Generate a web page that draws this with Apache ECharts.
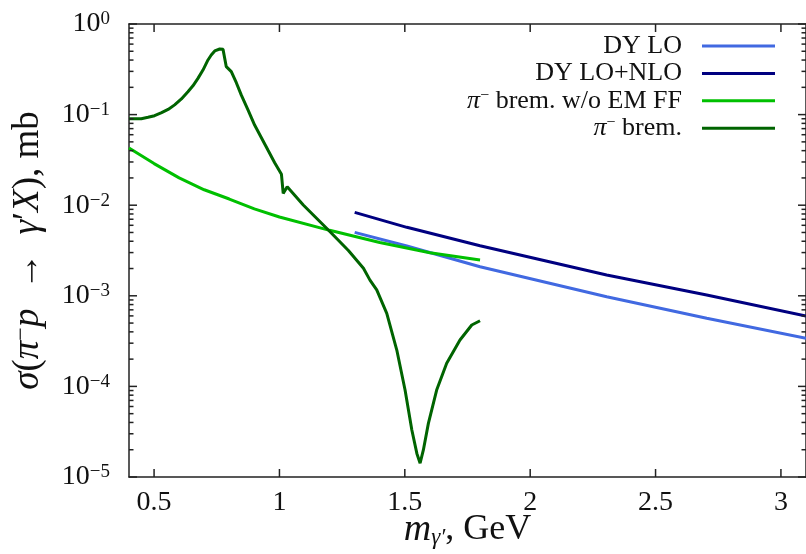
<!DOCTYPE html>
<html>
<head>
<meta charset="utf-8">
<script src="https://cdn.jsdelivr.net/npm/echarts@6/dist/echarts.min.js"></script>
<style>
  html, body { margin: 0; padding: 0; background: #fff; }
  #chart { width: 806px; height: 554px; }
</style>
</head>
<body>
<div id="chart"></div>
<script>
// values (x in GeV, y in mb)
const dyLoX = [1.30, 1.508, 1.80, 2.305, 2.704, 3.10]
const dyLoY = [0.00501, 0.00355, 0.00209, 0.000977, 0.000564, 0.000339]

const dyNloX = [1.30, 1.508, 1.80, 2.305, 2.704, 3.10]
const dyNloY = [0.00834, 0.00570, 0.00357, 0.00170, 0.00102, 0.000598]

const bremNoFfX = [0.40, 0.50, 0.60, 0.70, 0.80, 0.90, 1.00, 1.20, 1.40, 1.60, 1.80]
const bremNoFfY = [0.0428, 0.0288, 0.0200, 0.0148, 0.0117, 0.00912, 0.00741, 0.00528, 0.00387, 0.00299, 0.00248]

const bremX = [0.40, 0.423, 0.449, 0.476, 0.502, 0.53, 0.556, 0.582, 0.609, 0.635, 0.655, 0.675, 0.695, 0.715,
  0.728, 0.742, 0.748, 0.762, 0.775, 0.782, 0.788, 0.808, 0.828, 0.848, 0.875, 0.901, 0.928, 0.954, 0.981,
  1.008, 1.015, 1.031, 1.095, 1.142, 1.195, 1.275, 1.335, 1.361, 1.388, 1.428, 1.468, 1.501, 1.528,
  1.548, 1.561, 1.574, 1.594, 1.627, 1.667, 1.720, 1.767, 1.80]
const bremY = [0.0902, 0.0902, 0.0902, 0.0933, 0.0973, 0.105, 0.114, 0.128, 0.149, 0.179, 0.208, 0.251, 0.310, 0.401,
  0.455, 0.504, 0.516, 0.530, 0.525, 0.513, 0.338, 0.298, 0.225, 0.164, 0.112, 0.0767, 0.0556, 0.0406, 0.0294,
  0.0219, 0.0135, 0.0160, 0.01005, 0.00746, 0.00532, 0.00316, 0.00201, 0.00149, 0.00116, 0.000641, 0.000252, 9.12e-5, 3.30e-5,
  1.82e-5, 1.42e-5, 1.99e-5, 3.91e-5, 9.12e-5, 0.000180, 0.000325, 0.000476, 0.000531]

const xTicks = [0.5, 1, 1.5, 2, 2.5, 3]
const yMajorTicks = [1e-5, 1e-4, 1e-3, 1e-2, 1e-1, 1]
const yMinorTicks = []
yMajorTicks.slice(0, -1).forEach(d => {
  for (let k = 2; k <= 9; k++) yMinorTicks.push(d * k)
})

const X_MIN = 0.4
const X_MAX = 3.1
const Y_MIN = 1e-5
const Y_MAX = 1

const FONT = 'Liberation Serif'
const AXIS_COLOR = '#222'
const TEXT_COLOR = '#111'

const zip = (xs, ys) => xs.map((x, i) => [x, ys[i]])

const legendLabels = {
  'DY LO': '{r|DY LO}',
  'DY LO+NLO': '{r|DY LO+NLO}',
  'π⁻ brem. w/o EM FF': '{i|π}{s|−}{r| brem. w/o EM FF}',
  'π⁻ brem.': '{i|π}{s|−}{r| brem.}'
}

const chart = echarts.init(document.getElementById('chart'))

const yAxisBase = {
  type: 'log',
  logBase: 10,
  min: Y_MIN,
  max: Y_MAX,
  axisLine: { show: true, lineStyle: { color: AXIS_COLOR, width: 1.5 } },
  axisTick: { show: false },
  splitLine: { show: false }
}

const xAxisBase = {
  type: 'value',
  min: X_MIN,
  max: X_MAX,
  axisLine: { show: true, onZero: false, lineStyle: { color: AXIS_COLOR, width: 1.5 } },
  axisTick: { show: false },
  splitLine: { show: false }
}

const lineSeries = [
  { name: 'DY LO', data: zip(dyLoX, dyLoY), color: '#4169e1' },
  { name: 'DY LO+NLO', data: zip(dyNloX, dyNloY), color: '#000080' },
  { name: 'π⁻ brem. w/o EM FF', data: zip(bremNoFfX, bremNoFfY), color: '#00c000' },
  { name: 'π⁻ brem.', data: zip(bremX, bremY), color: '#006400' }
].map(s => ({
  name: s.name,
  type: 'line',
  data: s.data,
  symbol: 'none',
  showSymbol: false,
  color: s.color,
  lineStyle: { color: s.color, width: 3 },
  itemStyle: { color: s.color },
  z: 3
}))

const option = {
  backgroundColor: '#fff',
  animation: false,
  grid: { left: 129, right: 0, top: 24, bottom: 77, outerBoundsMode: 'none' },
  legend: {
    orient: 'vertical',
    right: 26,
    top: 28,
    align: 'right',
    icon: 'rect',
    itemWidth: 73,
    itemHeight: 3,
    itemGap: 1.4,
    data: ['DY LO', 'DY LO+NLO', 'π⁻ brem. w/o EM FF', 'π⁻ brem.'],
    formatter: name => legendLabels[name],
    textStyle: {
      padding: [0, 15, 0, 0],
      rich: {
        r: { fontFamily: FONT, fontSize: 26, lineHeight: 26, color: TEXT_COLOR },
        i: { fontFamily: FONT, fontSize: 26, lineHeight: 26, fontStyle: 'italic', color: TEXT_COLOR },
        s: { fontFamily: FONT, fontSize: 16, color: TEXT_COLOR, verticalAlign: 'top', lineHeight: 16 }
      }
    }
  },
  xAxis: [
    Object.assign({}, xAxisBase, {
      position: 'bottom',
      name: '{i|m}{sub|γ′}{r|, GeV}',
      nameLocation: 'middle',
      nameMoveOverlap: false,
      nameGap: 34,
      nameTextStyle: {
        rich: {
          i: { fontFamily: FONT, fontSize: 38, fontStyle: 'italic', color: TEXT_COLOR },
          sub: { fontFamily: FONT, fontSize: 23, fontStyle: 'italic', color: TEXT_COLOR, verticalAlign: 'bottom', lineHeight: 23 },
          r: { fontFamily: FONT, fontSize: 36, color: TEXT_COLOR }
        }
      },
      axisLabel: {
        show: true,
        customValues: xTicks,
        margin: 12,
        fontFamily: FONT,
        fontSize: 28,
        color: TEXT_COLOR
      }
    }),
    Object.assign({}, xAxisBase, {
      position: 'top',
      axisLabel: { show: false }
    })
  ],
  yAxis: [
    Object.assign({}, yAxisBase, {
      position: 'left',
      name: '{i|σ}{r|(}{i|π}{s|−}{i|p}{r|  →  }{i|γ}{r|′}{i|X}{r|), mb}',
      nameLocation: 'middle',
      nameGap: 82,
      nameTextStyle: {
        rich: {
          i: { fontFamily: FONT, fontSize: 37, fontStyle: 'italic', color: TEXT_COLOR },
          r: { fontFamily: FONT, fontSize: 37, color: TEXT_COLOR },
          s: { fontFamily: FONT, fontSize: 24, color: TEXT_COLOR, verticalAlign: 'top', lineHeight: 24 }
        }
      },
      axisLabel: {
        show: true,
        margin: 19,
        formatter: function (v) {
          const e = Math.round(Math.log10(v))
          return '{b|10}{s|' + (e < 0 ? '−' + (-e) : e) + '}'
        },
        rich: {
          b: { fontFamily: FONT, fontSize: 28, color: TEXT_COLOR },
          s: { fontFamily: FONT, fontSize: 19, color: TEXT_COLOR, verticalAlign: 'top', lineHeight: 19 }
        }
      }
    }),
    Object.assign({}, yAxisBase, {
      position: 'right',
      axisLabel: { show: false }
    })
  ],
  series: lineSeries
}

chart.setOption(option)

// inward ticks on all four sides, placed through the axes' own scales
const ticks = []
const tickLine = (x1, y1, x2, y2) => ticks.push({
  type: 'line',
  silent: true,
  z: 100,
  shape: { x1: x1, y1: y1, x2: x2, y2: y2 },
  style: { stroke: AXIS_COLOR, lineWidth: 1.5 }
})
const toPx = p => chart.convertToPixel({ xAxisIndex: 0, yAxisIndex: 0 }, p)

const addYTicks = (values, len) => values.forEach(v => {
  const l = toPx([X_MIN, v])
  const r = toPx([X_MAX, v])
  tickLine(l[0], l[1], l[0] + len, l[1])
  tickLine(r[0], r[1], r[0] - len, r[1])
})
addYTicks(yMajorTicks, 8)
addYTicks(yMinorTicks, 4.5)

xTicks.forEach(v => {
  const b = toPx([v, Y_MIN])
  const t = toPx([v, Y_MAX])
  tickLine(b[0], b[1], b[0], b[1] - 8)
  tickLine(t[0], t[1], t[0], t[1] + 8)
})

chart.setOption({ graphic: ticks })
</script>
</body>
</html>
